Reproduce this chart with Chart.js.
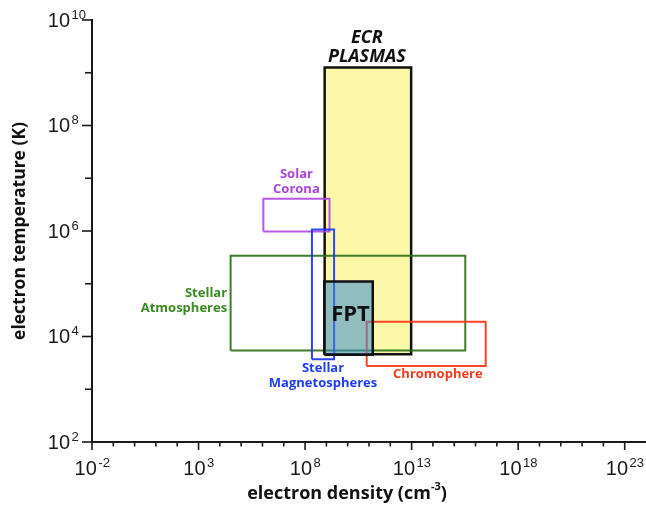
<!DOCTYPE html>
<html>
<head>
<meta charset="utf-8">
<script src="https://cdn.jsdelivr.net/npm/chart.js@4.4.1/dist/chart.umd.min.js"></script>
<style>
  html, body { margin: 0; padding: 0; background: #fff; }
  #wrap { width: 646px; height: 511px; position: relative; }
</style>
</head>
<body>
<div id="wrap"><canvas id="plasmaChart"></canvas></div>
<script>
// axis ranges and tick labels (powers of ten)
const xRange = [1e-2, 1e24];
const yRange = [1e2, 1e10];
const xTickExps = [-2, 3, 8, 13, 18, 23];
const yTickExps = [2, 4, 6, 8, 10];

// each region: [low, high] in electron density (cm^-3) and temperature (K)
const ecrDensity = [8.3e8, 9.5e12];
const ecrTemp = [4.6e3, 1.26e9];
const fptDensity = [8.0e8, 1.5e11];
const fptTemp = [4.5e3, 1.1e5];
const coronaDensity = [1.1e6, 1.4e9];
const coronaTemp = [9.8e5, 4.1e6];
const magnetoDensity = [2.1e8, 2.3e9];
const magnetoTemp = [3.7e3, 1.07e6];
const atmosDensity = [3.2e4, 3.3e15];
const atmosTemp = [5.4e3, 3.4e5];
const chromoDensity = [7.8e10, 3.0e16];
const chromoTemp = [2.75e3, 1.9e4];

function box(xs, ys) {
  return [
    { x: xs[0], y: ys[0] }, { x: xs[1], y: ys[0] },
    { x: xs[1], y: ys[1] }, { x: xs[0], y: ys[1] },
    { x: xs[0], y: ys[0] }
  ];
}

function rect(label, xs, ys, color, width, fillColor) {
  return {
    label: label,
    data: box(xs, ys),
    showLine: true,
    borderColor: color,
    borderWidth: width,
    pointRadius: 0,
    tension: 0,
    fill: fillColor ? 'shape' : false,
    backgroundColor: fillColor || 'transparent'
  };
}

const FONT = '"Open Sans", "Liberation Sans", sans-serif';
const NUMFONT = '"Liberation Sans", Arial, sans-serif';

function boxPx(chart, xs, ys) {
  const { x, y } = chart.scales;
  return {
    l: x.getPixelForValue(xs[0]), r: x.getPixelForValue(xs[1]),
    t: y.getPixelForValue(ys[1]), b: y.getPixelForValue(ys[0])
  };
}

// draws "10" with a raised exponent
function power(ctx, exp, cx, cy, align) {
  ctx.font = '20px ' + NUMFONT;
  const wb = ctx.measureText('10').width;
  ctx.font = '13px ' + NUMFONT;
  const we = ctx.measureText(String(exp)).width;
  let left;
  if (align === 'center') left = cx - (wb + 1 + we) / 2;
  else left = cx - wb; // right edge of the base at cx
  ctx.textAlign = 'left';
  ctx.textBaseline = 'middle';
  ctx.font = '20px ' + NUMFONT;
  ctx.fillText('10', left, cy);
  ctx.font = '13px ' + NUMFONT;
  ctx.fillText(String(exp), left + wb + 1.5, cy - 6);
}

const decorPlugin = {
  id: 'decor',
  afterDraw(chart) {
    const { ctx, chartArea: a, scales: { x, y } } = chart;
    ctx.save();
    ctx.strokeStyle = '#1a1a1a';
    ctx.fillStyle = '#1a1a1a';
    ctx.lineWidth = 1.6;

    // x ticks every decade, longer at labelled ones
    for (let k = -2; k < 24; k++) {
      const px = x.getPixelForValue(Math.pow(10, k));
      const len = xTickExps.includes(k) ? 8 : 4.5;
      ctx.beginPath();
      ctx.moveTo(px, a.bottom);
      ctx.lineTo(px, a.bottom + len);
      ctx.stroke();
    }
    // y ticks every decade
    for (let k = 2; k <= 10; k++) {
      const py = y.getPixelForValue(Math.pow(10, k));
      const len = yTickExps.includes(k) ? 10 : 7;
      ctx.beginPath();
      ctx.moveTo(a.left, py);
      ctx.lineTo(a.left - len, py);
      ctx.stroke();
    }

    // tick labels
    xTickExps.forEach(k => power(ctx, k, x.getPixelForValue(Math.pow(10, k)), 469, 'center'));
    yTickExps.forEach(k => power(ctx, k, a.left - 22, y.getPixelForValue(Math.pow(10, k)) + 1, 'right'));

    // axis titles
    ctx.fillStyle = '#111';
    ctx.textBaseline = 'middle';
    ctx.font = 'bold 17.5px ' + FONT;
    ctx.save();
    ctx.translate(20, (a.top + a.bottom) / 2);
    ctx.rotate(-Math.PI / 2);
    ctx.textAlign = 'center';
    ctx.fillText('electron temperature (K)', 0, 0);
    ctx.restore();

    const t1 = 'electron density (cm', t2 = '-3', t3 = ')';
    ctx.font = 'bold 18px ' + FONT;
    const w1 = ctx.measureText(t1).width, w3 = ctx.measureText(t3).width;
    ctx.font = 'bold 11px ' + FONT;
    const w2 = ctx.measureText(t2).width;
    let sx = 347 - (w1 + w2 + w3) / 2;
    ctx.textAlign = 'left';
    ctx.font = 'bold 18px ' + FONT;
    ctx.fillText(t1, sx, 494);
    ctx.font = 'bold 11px ' + FONT;
    ctx.fillText(t2, sx + w1, 487);
    ctx.font = 'bold 18px ' + FONT;
    ctx.fillText(t3, sx + w1 + w2, 494);

    // region labels
    const ecr = boxPx(chart, ecrDensity, ecrTemp);
    ctx.textAlign = 'center';
    ctx.fillStyle = '#111';
    ctx.font = 'italic bold 18px ' + FONT;
    ctx.fillText('ECR', (ecr.l + ecr.r) / 2 - 1, ecr.t - 30);
    ctx.fillText('PLASMAS', (ecr.l + ecr.r) / 2 - 1, ecr.t - 11);

    const fpt = boxPx(chart, fptDensity, fptTemp);
    ctx.font = 'bold 22px ' + FONT;
    ctx.fillText('FPT', (fpt.l + fpt.r) / 2 + 2, (fpt.t + fpt.b) / 2 - 3);

    ctx.font = 'bold 13px ' + FONT;
    const cor = boxPx(chart, coronaDensity, coronaTemp);
    ctx.fillStyle = '#a846dc';
    ctx.fillText('Solar', (cor.l + cor.r) / 2, cor.t - 24);
    ctx.fillText('Corona', (cor.l + cor.r) / 2, cor.t - 9);

    const mag = boxPx(chart, magnetoDensity, magnetoTemp);
    ctx.fillStyle = '#1f3cf5';
    ctx.fillText('Stellar', (mag.l + mag.r) / 2, mag.b + 9);
    ctx.fillText('Magnetospheres', (mag.l + mag.r) / 2, mag.b + 24);

    const atm = boxPx(chart, atmosDensity, atmosTemp);
    ctx.fillStyle = '#3b8a24';
    ctx.textAlign = 'right';
    ctx.fillText('Stellar', atm.l - 3.5, (atm.t + atm.b) / 2 - 9.5);
    ctx.fillText('Atmospheres', atm.l - 3.5, (atm.t + atm.b) / 2 + 5.5);

    const chr = boxPx(chart, chromoDensity, chromoTemp);
    ctx.fillStyle = '#f03c1e';
    ctx.fillText('Chromophere', chr.r - 3, chr.b + 8.5);

    ctx.restore();
  }
};

new Chart(document.getElementById('plasmaChart').getContext('2d'), {
  type: 'scatter',
  data: {
    datasets: [
      rect('FPT', fptDensity, fptTemp, '#111', 2.5, 'rgba(60,140,210,0.55)'),
      rect('Stellar Magnetospheres', magnetoDensity, magnetoTemp, 'rgba(20,50,255,0.9)', 2, null),
      rect('Chromophere', chromoDensity, chromoTemp, 'rgba(255,50,20,0.9)', 2, null),
      rect('Solar Corona', coronaDensity, coronaTemp, 'rgba(175,70,230,0.9)', 2, null),
      rect('Stellar Atmospheres', atmosDensity, atmosTemp, 'rgba(40,110,20,0.9)', 2, null),
      rect('ECR Plasmas', ecrDensity, ecrTemp, '#111', 2.5, '#fbf8a8')
    ]
  },
  options: {
    responsive: true,
    maintainAspectRatio: false,
    animation: false,
    layout: { padding: { top: 20, left: 0, right: 0, bottom: 0 } },
    plugins: {
      legend: { display: false },
      tooltip: { enabled: false },
      filler: { drawTime: 'beforeDatasetDraw' }
    },
    scales: {
      x: {
        type: 'logarithmic',
        min: xRange[0],
        max: xRange[1],
        grid: { display: false, drawTicks: false },
        ticks: { display: false },
        border: { display: true, color: '#1a1a1a', width: 2 },
        afterFit: s => { s.height = 69; }
      },
      y: {
        type: 'logarithmic',
        min: yRange[0],
        max: yRange[1],
        grid: { display: false, drawTicks: false },
        ticks: { display: false },
        border: { display: true, color: '#1a1a1a', width: 2 },
        afterFit: s => { s.width = 92; }
      }
    }
  },
  plugins: [decorPlugin]
});
</script>
</body>
</html>
